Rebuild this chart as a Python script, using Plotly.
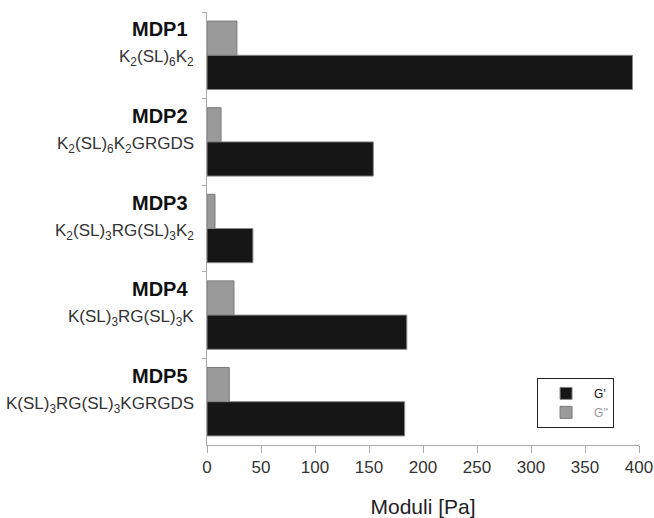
import plotly.graph_objects as go

categories = ["MDP1", "MDP2", "MDP3", "MDP4", "MDP5"]
formulas = [
    "K<sub>2</sub>(SL)<sub>6</sub>K<sub>2</sub>",
    "K<sub>2</sub>(SL)<sub>6</sub>K<sub>2</sub>GRGDS",
    "K<sub>2</sub>(SL)<sub>3</sub>RG(SL)<sub>3</sub>K<sub>2</sub>",
    "K(SL)<sub>3</sub>RG(SL)<sub>3</sub>K",
    "K(SL)<sub>3</sub>RG(SL)<sub>3</sub>KGRGDS",
]
g_storage = [394, 154, 42.5, 185, 183]   # G'
g_loss = [27.7, 13, 7.4, 25, 20.6]       # G''
x_ticks = [0, 50, 100, 150, 200, 250, 300, 350, 400]

FONT = "Liberation Sans, Arial, Helvetica, sans-serif"

fig = go.Figure()
fig.add_trace(go.Bar(
    y=categories, x=g_loss, orientation="h", name="<span style='color:#999999'>G''</span>",
    marker=dict(color="#9a9a9a", line=dict(color="#7a7a7a", width=1)),
))
fig.add_trace(go.Bar(
    y=categories, x=g_storage, orientation="h", name="G'",
    marker=dict(color="#161616", line=dict(color="#888888", width=1)),
))

annotations = []
for cat, form in zip(categories, formulas):
    annotations.append(dict(
        x=0, xref="paper", y=cat, yref="y", xanchor="right", yanchor="middle",
        xshift=-17, yshift=26, text="<b>" + cat + "</b>", showarrow=False,
        font=dict(family=FONT, size=20, color="#111111"),
    ))
    annotations.append(dict(
        x=0, xref="paper", y=cat, yref="y", xanchor="right", yanchor="middle",
        xshift=-11, yshift=-3, text=form, showarrow=False,
        font=dict(family=FONT, size=17, color="#333333"),
    ))

fig.update_layout(
    width=654, height=518,
    margin=dict(l=207, r=15, t=12, b=73, autoexpand=False),
    paper_bgcolor="white", plot_bgcolor="white",
    barmode="group", bargap=0.21, bargroupgap=0,
    font=dict(family=FONT, color="#333333"),
    annotations=annotations,
    legend=dict(
        x=0.764, y=0.155, xanchor="left", yanchor="top",
        traceorder="reversed", bordercolor="#222222", borderwidth=1,
        bgcolor="white", itemwidth=46,
        font=dict(family=FONT, size=12, color="#111111"),
    ),
    xaxis=dict(
        range=[0, 400], tickvals=x_ticks, ticks="outside", ticklen=7,
        tickcolor="#aaaaaa", showline=True, linecolor="#aaaaaa", linewidth=1,
        showgrid=False, zeroline=False, automargin=False,
        tickfont=dict(family=FONT, size=17, color="#333333"),
        title=dict(text="Moduli [Pa]", standoff=22,
                   font=dict(family=FONT, size=21, color="#222222")),
    ),
    yaxis=dict(
        autorange="reversed", showticklabels=False, ticks="outside",
        tickson="boundaries", ticklen=4, tickcolor="#aaaaaa",
        showline=True, linecolor="#aaaaaa", linewidth=1, showgrid=False,
        automargin=False,
    ),
)

fig.write_html("out.html")
